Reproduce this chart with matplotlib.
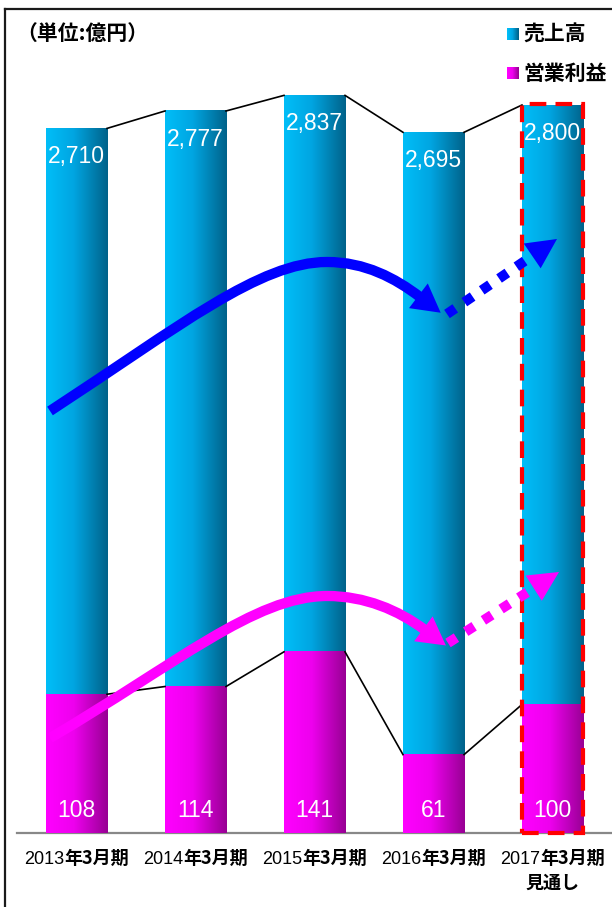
import numpy as np
import matplotlib.pyplot as plt
from matplotlib.patches import Rectangle, Polygon, PathPatch
from matplotlib.path import Path
from matplotlib.lines import Line2D
from matplotlib.offsetbox import TextArea, HPacker, AnnotationBbox

# 売上高 / 営業利益 (億円)
years = ['2013', '2014', '2015', '2016', '2017']
period_suffix = '年3月期'
forecast_note = '見通し'
sales = [2710, 2777, 2837, 2695, 2800]
profit = [108, 114, 141, 61, 100]

W, H = 612, 907
fig = plt.figure(figsize=(W / 100, H / 100), dpi=100)


def fpos(x, y):
    # pixel position (from top-left) -> figure fraction
    return (x / W, 1 - y / H)


ax = fig.add_axes([17 / W, 1 - 833 / H, (W - 17) / W, (833 - 53) / H])
ax2 = ax.twinx()

xs = np.arange(len(sales))
bw = 0.513

blue_stops = [(0.0, (0, 190, 248)), (0.45, (0, 165, 225)), (1.0, (0, 98, 138))]
pink_stops = [(0.0, (255, 0, 255)), (0.45, (238, 0, 238)), (1.0, (152, 0, 148))]


def ramp(stops, n=128):
    t = np.linspace(0, 1, n)
    pos = [s[0] for s in stops]
    img = np.zeros((1, n, 3))
    for c in range(3):
        img[0, :, c] = np.interp(t, pos, [s[1][c] for s in stops]) / 255
    return img


def gradient_bars(axis, heights, stops):
    bars = axis.bar(xs, heights, bw, color='none', edgecolor='none')
    img = ramp(stops)
    for b in bars:
        axis.imshow(img, extent=(b.get_x(), b.get_x() + b.get_width(), 0, b.get_height()),
                    aspect='auto', origin='lower', interpolation='bilinear', zorder=1)
    return bars


gradient_bars(ax, sales, blue_stops)
gradient_bars(ax2, profit, pink_stops)

# series lines between bar tops
for i in range(len(xs) - 1):
    ax.plot([xs[i] + bw / 2, xs[i + 1] - bw / 2], [sales[i], sales[i + 1]],
            color='black', lw=1.2, zorder=3)
    ax2.plot([xs[i] + bw / 2, xs[i + 1] - bw / 2], [profit[i], profit[i + 1]],
             color='black', lw=1.2, zorder=3)

for xi, v in zip(xs, sales):
    ax.annotate(f'{v:,}', (xi, v), xytext=(0, -20.5), textcoords='offset points',
                ha='center', va='center', color='white', fontsize=16.5,
                family='Liberation Sans', zorder=4)
for xi, v in zip(xs, profit):
    ax2.annotate(f'{v}', (xi, 0), xytext=(0, 16), textcoords='offset points',
                 ha='center', va='center', color='white', fontsize=16.5,
                 family='Liberation Sans', zorder=4)

ax.set_xlim(-0.5, len(xs) - 0.5)
ax.set_ylim(0, 3000)
ax2.set_ylim(0, 607)

for a in (ax, ax2):
    for s in a.spines.values():
        s.set_visible(False)
    a.set_yticks([])
    a.tick_params(bottom=False, labelbottom=False)
ax.set_xticks([])
ax.spines['bottom'].set_visible(True)
ax.spines['bottom'].set_color('#888888')
ax.spines['bottom'].set_linewidth(1.6)

# forecast frame
ax2.add_patch(Rectangle((xs[-1] - bw / 2, 0), bw, 2805, transform=ax.transData,
                        fill=False, edgecolor='#ff0000', lw=3,
                        linestyle=(0, (4, 2.2)), clip_on=False, zorder=6))

# category labels: digits regular, kanji bold
digit_props = dict(fontsize=13, family='Liberation Sans', color='black')
kanji_props = dict(fontsize=13, family='Noto Sans CJK JP', weight='bold', color='black')
for xi, yr in zip(xs, years):
    box = HPacker(children=[TextArea(yr, textprops=digit_props),
                            TextArea(period_suffix, textprops=kanji_props)],
                  pad=0, sep=0, align='baseline')
    ab = AnnotationBbox(box, (xi, 0), xycoords=('data', 'axes fraction'),
                        xybox=(0, -18), boxcoords='offset points',
                        box_alignment=(0.5, 0.5), frameon=False, annotation_clip=False)
    ax2.add_artist(ab)
ab = AnnotationBbox(TextArea(forecast_note, textprops=kanji_props), (xs[-1], 0),
                    xycoords=('data', 'axes fraction'), xybox=(0, -36.5),
                    boxcoords='offset points', box_alignment=(0.5, 0.5),
                    frameon=False, annotation_clip=False)
ax2.add_artist(ab)

# title and legend
fig.text(*fpos(16, 33), '（単位:億円）', ha='left', va='center', fontsize=15,
         weight='bold', family='Noto Sans CJK JP')
fig.figimage(np.repeat(ramp(blue_stops, 12), 12, axis=0), xo=507, yo=H - 40)
fig.figimage(np.repeat(ramp(pink_stops, 12), 12, axis=0), xo=507, yo=H - 79)
fig.text(*fpos(523, 34), '売上高', ha='left', va='center', fontsize=15,
         weight='bold', family='Noto Sans CJK JP')
fig.text(*fpos(523, 73), '営業利益', ha='left', va='center', fontsize=15,
         weight='bold', family='Noto Sans CJK JP')

# outer frame (left and top edges)
fig.add_artist(Line2D([5 / W, 5 / W], [0, 1 - 9 / H], color='#1a1a1a', lw=1.6,
                      transform=fig.transFigure))
fig.add_artist(Line2D([5 / W, 1], [1 - 9 / H, 1 - 9 / H], color='#1a1a1a', lw=1.6,
                      transform=fig.transFigure))


def arrow_head(base, direction, color, length=28, width=31):
    base = np.asarray(base, float)
    u = np.asarray(direction, float)
    u = u / np.hypot(*u)
    n = np.array([-u[1], u[0]])
    tip = base + length * u
    c1 = base + width / 2 * n
    c2 = base - width / 2 * n
    fig.add_artist(Polygon([fpos(*tip), fpos(*c1), fpos(*c2)], closed=True,
                           facecolor=color, edgecolor='none', transform=fig.transFigure))


def trend_arrow(ctrl, color):
    verts = [fpos(*p) for p in ctrl]
    codes = [Path.MOVETO] + [Path.CURVE4] * 6
    fig.add_artist(PathPatch(Path(verts, codes), fill=False, edgecolor=color,
                             lw=7.4, capstyle='butt', transform=fig.transFigure))
    end = np.array(ctrl[-1], float)
    d = end - np.array(ctrl[-2], float)
    arrow_head(end - 2 * d / np.hypot(*d), d, color)


def outlook_arrow(start, tip, color):
    start = np.array(start, float)
    tip = np.array(tip, float)
    d = tip - start
    u = d / np.hypot(*d)
    base = tip - 30 * u
    fig.add_artist(Line2D([start[0] / W, base[0] / W], [1 - start[1] / H, 1 - base[1] / H],
                          color=color, lw=7.2, linestyle=(0, (1, 1.1)),
                          dash_capstyle='butt', transform=fig.transFigure))
    arrow_head(base, d, color, length=30, width=30)


trend_arrow([(50, 411), (180, 326), (260, 262), (327, 262),
             (365, 262), (395, 278), (420, 297)], '#0000ff')
outlook_arrow((447, 314), (557, 239), '#0000ff')

trend_arrow([(50, 738), (175, 665), (255, 596), (327, 596),
             (365, 596), (398, 610), (425, 630)], '#ff00ff')
outlook_arrow((448, 643), (559, 572), '#ff00ff')

fig.savefig('out.png', dpi=100)
